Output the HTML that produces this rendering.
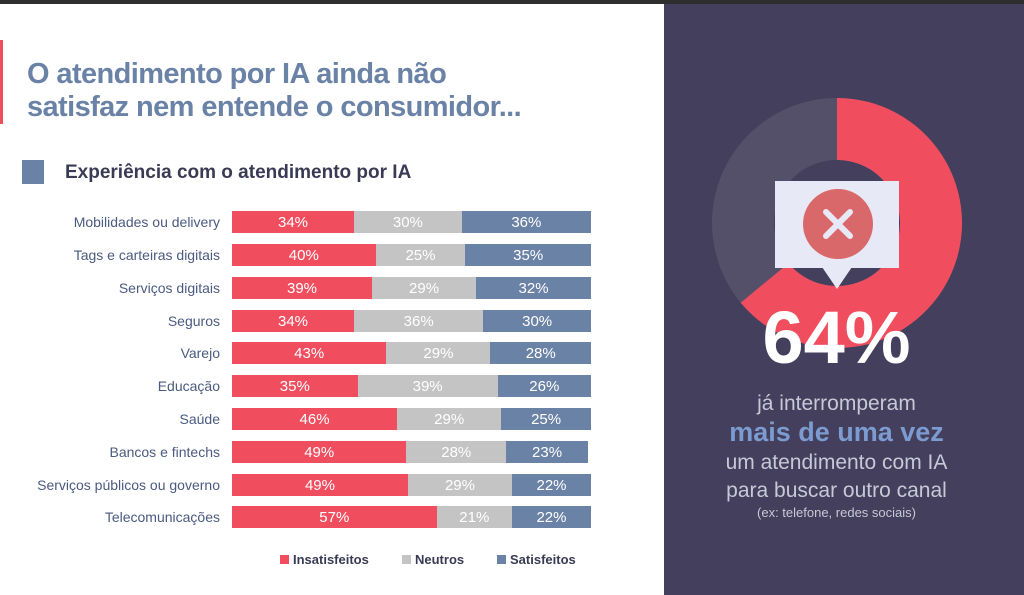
<!DOCTYPE html>
<html><head><meta charset="utf-8"><style>
body{margin:0;width:1024px;height:595px;overflow:hidden;background:#fff;font-family:"Liberation Sans",sans-serif;position:relative}
.a{position:absolute}
.lab{position:absolute;right:804px;font-size:14px;color:#4a5a80;white-space:nowrap;line-height:16px}
.bar{position:absolute;left:232px;width:359px;height:22px;display:flex}
.bar div{color:#fff;font-size:15px;text-align:center;line-height:24px;height:22px}
.r{background:#f04e5f}.g{background:#c4c4c4}.b{background:#6a82a6}
</style></head><body>
<div class="a" style="left:0;top:0;width:1024px;height:4px;background:#2e2e2e"></div>
<div class="a" style="left:0;top:40px;width:3px;height:84px;background:#f04e5f"></div>
<div class="a" style="left:27px;top:58px;font-size:29px;font-weight:bold;color:#6a82a6;line-height:33px;letter-spacing:-0.6px">O atendimento por IA ainda não<br>satisfaz nem entende o consumidor...</div>
<div class="a" style="left:22px;top:160px;width:22px;height:24px;background:#6a82a6"></div>
<div class="a" style="left:65px;top:162px;font-size:19px;font-weight:bold;color:#3a3a55">Experiência com o atendimento por IA</div>

<div class="lab" style="top:214px">Mobilidades ou delivery</div>
<div class="lab" style="top:247px">Tags e carteiras digitais</div>
<div class="lab" style="top:280px">Serviços digitais</div>
<div class="lab" style="top:313px">Seguros</div>
<div class="lab" style="top:345px">Varejo</div>
<div class="lab" style="top:378px">Educação</div>
<div class="lab" style="top:411px">Saúde</div>
<div class="lab" style="top:444px">Bancos e fintechs</div>
<div class="lab" style="top:477px">Serviços públicos ou governo</div>
<div class="lab" style="top:509px">Telecomunicações</div>

<div class="bar" style="top:211px"><div class="r" style="width:34%">34%</div><div class="g" style="width:30%">30%</div><div class="b" style="width:36%">36%</div></div>
<div class="bar" style="top:244px"><div class="r" style="width:40%">40%</div><div class="g" style="width:25%">25%</div><div class="b" style="width:35%">35%</div></div>
<div class="bar" style="top:277px"><div class="r" style="width:39%">39%</div><div class="g" style="width:29%">29%</div><div class="b" style="width:32%">32%</div></div>
<div class="bar" style="top:310px"><div class="r" style="width:34%">34%</div><div class="g" style="width:36%">36%</div><div class="b" style="width:30%">30%</div></div>
<div class="bar" style="top:342px"><div class="r" style="width:43%">43%</div><div class="g" style="width:29%">29%</div><div class="b" style="width:28%">28%</div></div>
<div class="bar" style="top:375px"><div class="r" style="width:35%">35%</div><div class="g" style="width:39%">39%</div><div class="b" style="width:26%">26%</div></div>
<div class="bar" style="top:408px"><div class="r" style="width:46%">46%</div><div class="g" style="width:29%">29%</div><div class="b" style="width:25%">25%</div></div>
<div class="bar" style="top:441px;width:356px"><div class="r" style="width:49%">49%</div><div class="g" style="width:28%">28%</div><div class="b" style="width:23%">23%</div></div>
<div class="bar" style="top:474px"><div class="r" style="width:49%">49%</div><div class="g" style="width:29%">29%</div><div class="b" style="width:22%">22%</div></div>
<div class="bar" style="top:506px"><div class="r" style="width:57%">57%</div><div class="g" style="width:21%">21%</div><div class="b" style="width:22%">22%</div></div>

<div class="a" style="left:280px;top:555px;width:9px;height:9px;background:#f04e5f"></div>
<div class="a" style="left:293px;top:552px;font-size:13px;font-weight:bold;color:#3a3a55">Insatisfeitos</div>
<div class="a" style="left:402px;top:555px;width:9px;height:9px;background:#c4c4c4"></div>
<div class="a" style="left:415px;top:552px;font-size:13px;font-weight:bold;color:#3a3a55">Neutros</div>
<div class="a" style="left:497px;top:555px;width:9px;height:9px;background:#6a82a6"></div>
<div class="a" style="left:510px;top:552px;font-size:13px;font-weight:bold;color:#3a3a55">Satisfeitos</div>

<div class="a" style="left:664px;top:4px;width:360px;height:591px;background:#433f5c"></div>
<svg class="a" style="left:0;top:0" width="1024" height="595">
<circle cx="837" cy="223" r="94" fill="none" stroke="#545069" stroke-width="62"/>
<path d="M837 98 A125 125 0 1 1 740.7 302.7 L788.5 263.2 A63 63 0 1 0 837 160 Z" fill="#f04e5f"/>
<rect x="775" y="181" width="124" height="87" fill="#e8e9f6"/>
<polygon points="822,267 852,267 837,289" fill="#e8e9f6"/>
<circle cx="838" cy="224" r="35" fill="#d9686a"/>
<path d="M826 212 L850 236 M850 212 L826 236" stroke="#e8e9f6" stroke-width="6" stroke-linecap="round"/>
</svg>
<div class="a" style="left:664px;top:296px;width:345px;text-align:center;color:#fff;font-size:74px;font-weight:bold;line-height:84px">64%</div>
<div class="a" style="left:664px;top:390px;width:345px;text-align:center;color:#c8c8d8;font-size:21px;line-height:28px">já interromperam<br><span style="color:#7c9bd0;font-weight:bold;font-size:27px">mais de uma vez</span><br>um atendimento com IA<br>para buscar outro canal<br><span style="font-size:13px;line-height:16px;display:block">(ex: telefone, redes sociais)</span></div>
</body></html>
